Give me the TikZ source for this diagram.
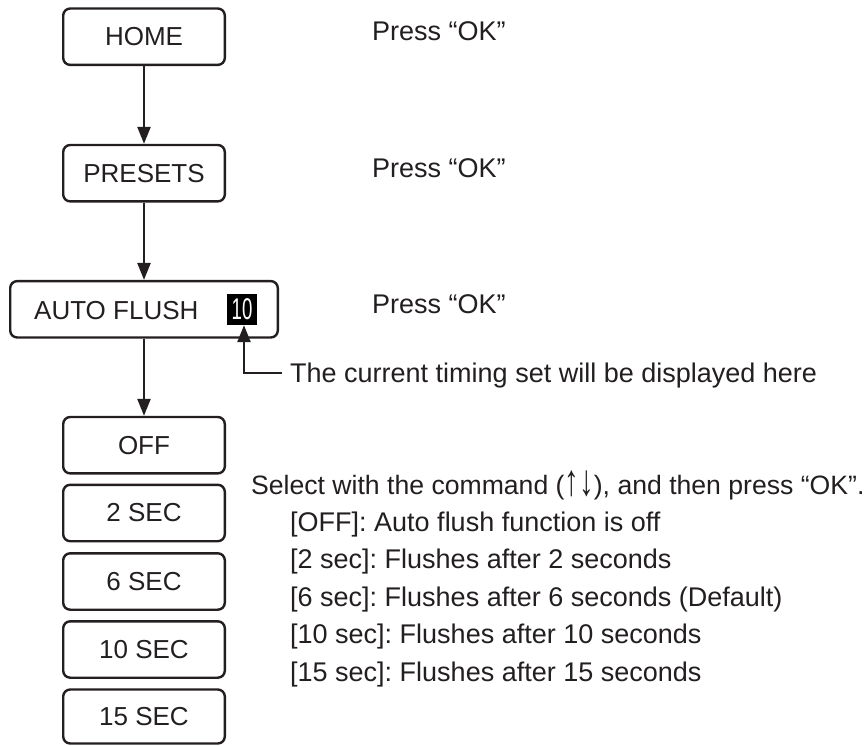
\documentclass[tikz,border=0pt]{standalone}
\usepackage{fontspec}
\setmainfont{Liberation Sans}
\usetikzlibrary{arrows.meta}
\definecolor{ink}{HTML}{231F20}
\begin{document}
\frenchspacing
\begin{tikzpicture}[x=1pt,y=-1pt,
  every node/.style={text=ink},
  menubox/.style={draw=ink, line width=2.4pt, rounded corners=7pt, minimum width=161.6pt, minimum height=56.4pt, inner sep=0pt, font=\fontsize{26}{31}\selectfont},
  lbl/.style={anchor=base west, inner sep=0pt, font=\fontsize{27}{32}\selectfont},
  arr/.style={draw=ink, line width=2.4pt, -{Triangle[length=17pt,width=13pt]}}
]
\fill[white] (0,0) rectangle (864,745);
\useasboundingbox (0,0) rectangle (864,745);

\node[menubox] (home) at (144,36.7) {HOME};
\node[menubox] (presets) at (144,173.2) {PRESETS};
\node[menubox, minimum width=267.6pt] (af) at (144,309.3) {};
\node[lbl, font=\fontsize{26}{31}\selectfont] (aft) at (34,319) {AUTO FLUSH};
\node[fill=black, minimum width=30pt, minimum height=31pt, inner sep=0pt, text=white] (ten) at (242,309.5) {\scalebox{0.62}[1]{\fontsize{30}{30}\selectfont 10}};
\node[menubox] (off) at (144,445.2) {OFF};
\node[menubox] (s2) at (144,513) {2 SEC};
\node[menubox] (s6) at (144,581.5) {6 SEC};
\node[menubox] (s10) at (144,649.5) {10 SEC};
\node[menubox, minimum height=54pt] (s15) at (144,716.5) {15 SEC};

\draw[arr] (home) -- (presets);
\draw[arr] (presets) -- (af);
\draw[arr] (af) -- (off);

\node[lbl] (p1) at (372,40.7) {Press “OK”};
\node[lbl] (p2) at (372,177.2) {Press “OK”};
\node[lbl] (p3) at (372,313.3) {Press “OK”};

\node[lbl] (cur) at (290,382) {The current timing set will be displayed here};
\coordinate (tp) at (282,373);
\draw[arr] (tp) -| ([xshift=2pt]ten.south);

\node[lbl, font=\fontsize{26.6}{32}\selectfont] (sel) at (251,494.5) {Select with the command (\raisebox{-1pt}{\scalebox{1.1}[1.65]{↑↓}}), and then press “OK”.};
\node[lbl] (i1) at (290,531.5) {[OFF]: Auto flush function is off};
\node[lbl] (i2) at (290,568) {[2 sec]: Flushes after 2 seconds};
\node[lbl] (i3) at (290,606) {[6 sec]: Flushes after 6 seconds (Default)};
\node[lbl] (i4) at (290,643.5) {[10 sec]: Flushes after 10 seconds};
\node[lbl] (i5) at (290,681.5) {[15 sec]: Flushes after 15 seconds};
\end{tikzpicture}
\end{document}
